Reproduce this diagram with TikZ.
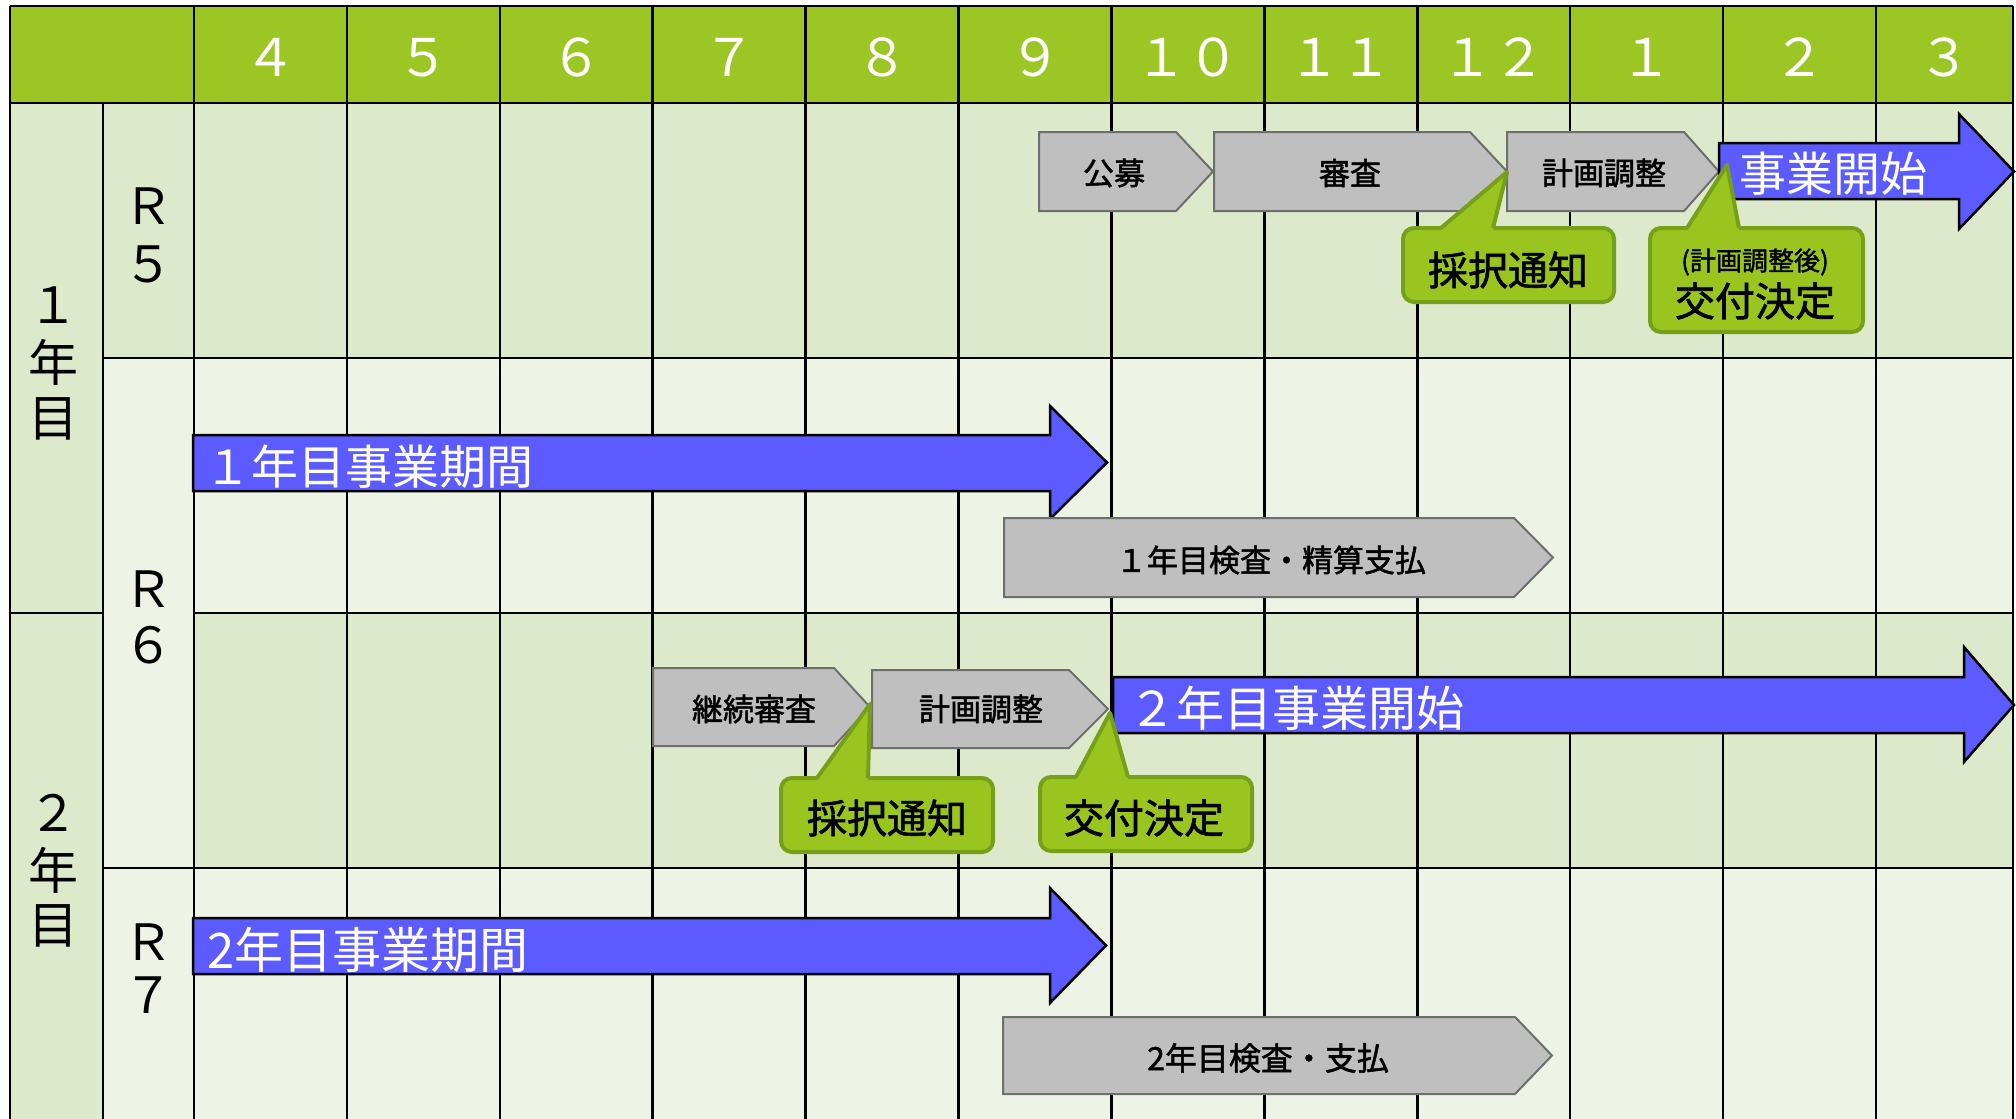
\documentclass[tikz,border=0pt]{standalone}
\usepackage{fontspec}
\setmainfont{Noto Sans CJK JP}
\newfontfamily\jpmed{Noto Sans CJK JP}[FakeBold=1.6]
\definecolor{hdr}{HTML}{9BC623}
\definecolor{rowA}{HTML}{DDE9CB}
\definecolor{rowB}{HTML}{EEF4E5}
\definecolor{chevfill}{HTML}{BFBFBF}
\definecolor{chevline}{HTML}{6E6E6E}
\definecolor{arrblue}{HTML}{5B5BFF}
\definecolor{callfill}{HTML}{9AC51F}
\definecolor{callline}{HTML}{76A01A}
\begin{document}
\begin{tikzpicture}[x=1pt,y=-1pt,
  grid/.style={line width=2.6pt, black},
  chev/.style={fill=chevfill, draw=chevline, line width=2pt, line join=miter},
  barrow/.style={fill=arrblue, draw=black, line width=2.5pt, line join=miter},
  callbox/.style={fill=callfill, draw=callline, line width=4pt, rounded corners=11pt},
  callptr/.style={draw=callline, line width=4pt, line join=round},
  hdrtxt/.style={text=white, font=\fontsize{52pt}{60pt}\selectfont, inner sep=0pt},
  sidetxt/.style={text=black, font=\fontsize{50pt}{60pt}\selectfont, inner sep=0pt},
  chevtxt/.style={text=black, font=\jpmed\fontsize{31pt}{36pt}\selectfont, inner sep=0pt},
  calltxt/.style={text=black, font=\jpmed\fontsize{40pt}{46pt}\selectfont, inner sep=0pt},
  calltxts/.style={text=black, font=\jpmed\fontsize{26pt}{30pt}\selectfont, inner sep=0pt},
  bluetxt/.style={text=white, font=\fontsize{47pt}{54pt}\selectfont, inner sep=0pt, anchor=west},
]
\useasboundingbox (0,0) rectangle (2016,1119);
\fill[white] (0,0) rectangle (2016,1119);

% ---------- backgrounds ----------
\fill[hdr] (10,6) rectangle (2013,103);
\fill[rowA] (10,103) rectangle (103,1119);
\fill[rowA] (103,103) rectangle (194,358);
\fill[rowB] (103,358) rectangle (194,1119);
\fill[rowA] (194,103) rectangle (2013,358);
\fill[rowB] (194,358) rectangle (2013,613);
\fill[rowA] (194,613) rectangle (2013,868);
\fill[rowB] (194,868) rectangle (2013,1119);

% ---------- grid lines ----------
\draw[grid] (10,6) -- (2013,6);
\draw[grid] (10,103) -- (2013,103);
\draw[grid] (103,358) -- (2013,358);
\draw[grid] (10,613) -- (103,613);
\draw[grid] (194,613) -- (2013,613);
\draw[grid] (103,868) -- (2013,868);
\draw[grid] (10,6) -- (10,1119);
\draw[grid] (103,103) -- (103,1119);
\foreach \i in {0,...,11} {
  \pgfmathsetmacro\xx{194+152.9*\i}
  \draw[grid] (\xx,6) -- (\xx,1119);
}
\draw[grid] (2013,6) -- (2013,1119);

% ---------- header labels ----------
\foreach \lbl/\xx [count=\i] in {４/270.5,５/423.4,６/576.3,７/729.2,８/882.1,９/1035.0,１０/1187.9,１１/1340.8,１２/1493.7,１/1646.6,２/1799.5,３/1944}
  \node[hdrtxt] (h\i) at (\xx,57.5) {\lbl};

% ---------- side labels ----------
\node[sidetxt] (y1a) at (53,305) {１};
\node[sidetxt] (y1b) at (53,362) {年};
\node[sidetxt] (y1c) at (53,419) {目};
\node[sidetxt] (y2a) at (53,813) {２};
\node[sidetxt] (y2b) at (53,870) {年};
\node[sidetxt] (y2c) at (53,926) {目};
\node[sidetxt] (r5a) at (148,206) {Ｒ};
\node[sidetxt] (r5b) at (148,264) {５};
\node[sidetxt] (r6a) at (148,589) {Ｒ};
\node[sidetxt] (r6b) at (148,645) {６};
\node[sidetxt] (r7a) at (148,942) {Ｒ};
\node[sidetxt] (r7b) at (148,995) {７};

% ---------- row 1 (R5) ----------
\draw[chev] (1039,132) -- (1176,132) -- (1213,171.5) -- (1176,211) -- (1039,211) -- cycle;
\draw[chev] (1214,132) -- (1470,132) -- (1507,171.5) -- (1470,211) -- (1214,211) -- cycle;
\draw[chev] (1507,132) -- (1684,132) -- (1719,171.5) -- (1684,211) -- (1507,211) -- cycle;
\node[chevtxt] (koubo) at (1114,173) {公募};
\node[chevtxt] (shinsa) at (1350,173) {審査};
\node[chevtxt] (keikaku1) at (1604,173) {計画調整};
\draw[barrow] (1719,143) -- (1959,143) -- (1959,114) -- (2014,171.5) -- (1959,229) -- (1959,199) -- (1719,199) -- cycle;
\node[bluetxt] (start1) at (1739,174) {事業開始};

% callout 採択通知 (row 1)
\draw[callbox] (1403,228) rectangle (1614,302);
\fill[callfill] (1441,230.5) -- (1507,172) -- (1493,230.5) -- cycle;
\draw[callptr] (1441,228) -- (1507,172) -- (1493,228);
\node[calltxt] (saitaku1) at (1508,270) {採択通知};

% callout 交付決定 (row 1)
\draw[callbox] (1650,228) rectangle (1863,332);
\fill[callfill] (1687,230.5) -- (1727,165) -- (1739,230.5) -- cycle;
\draw[callptr] (1687,228) -- (1727,165) -- (1739,228);
\node[calltxts] (kouhu1a) at (1755,262) {(計画調整後)};
\node[calltxt] (kouhu1b) at (1755,301) {交付決定};

% ---------- row 2 ----------
\draw[barrow] (193,435) -- (1050,435) -- (1050,406) -- (1107,462.5) -- (1050,519) -- (1050,491) -- (193,491) -- cycle;
\node[bluetxt] (period1) at (204,467) {１年目事業期間};
\draw[chev] (1004,518) -- (1514,518) -- (1553,557.5) -- (1514,597) -- (1004,597) -- cycle;
\node[chevtxt] (kensa1) at (1271,560) {１年目検査・精算支払};

% ---------- row 3 ----------
\draw[chev] (653,668) -- (834,668) -- (870,707) -- (834,746) -- (653,746) -- cycle;
\draw[chev] (872,670) -- (1069,670) -- (1108,709) -- (1069,748) -- (872,748) -- cycle;
\node[chevtxt] (keizoku) at (754,709) {継続審査};
\node[chevtxt] (keikaku2) at (981,709) {計画調整};
\draw[barrow] (1113,677) -- (1964,677) -- (1964,647) -- (2014,705) -- (1964,762) -- (1964,733) -- (1113,733) -- cycle;
\node[bluetxt, font=\fontsize{48pt}{54pt}\selectfont] (start2) at (1128,708) {２年目事業開始};

% callout 採択通知 (row 3)
\draw[callbox] (781,778) rectangle (993,852);
\fill[callfill] (817,780.5) -- (870,704) -- (868,780.5) -- cycle;
\draw[callptr] (817,778) -- (870,704) -- (868,778);
\node[calltxt] (saitaku2) at (887,818) {採択通知};

% callout 交付決定 (row 3)
\draw[callbox] (1040,777) rectangle (1252,851);
\fill[callfill] (1076,779.5) -- (1110,713) -- (1128,779.5) -- cycle;
\draw[callptr] (1076,777) -- (1110,713) -- (1128,777);
\node[calltxt] (kouhu2) at (1144,818) {交付決定};

% ---------- row 4 ----------
\draw[barrow] (193,918) -- (1050,918) -- (1050,888) -- (1106,945.5) -- (1050,1003) -- (1050,974) -- (193,974) -- cycle;
\node[bluetxt, font=\fontsize{49pt}{54pt}\selectfont] (period2) at (207,950) {2年目事業期間};
\draw[chev] (1003,1017) -- (1515,1017) -- (1552,1055.5) -- (1515,1094) -- (1003,1094) -- cycle;
\node[chevtxt, font=\jpmed\fontsize{32pt}{36pt}\selectfont] (kensa2) at (1268,1058) {2年目検査・支払};
\end{tikzpicture}
\end{document}
